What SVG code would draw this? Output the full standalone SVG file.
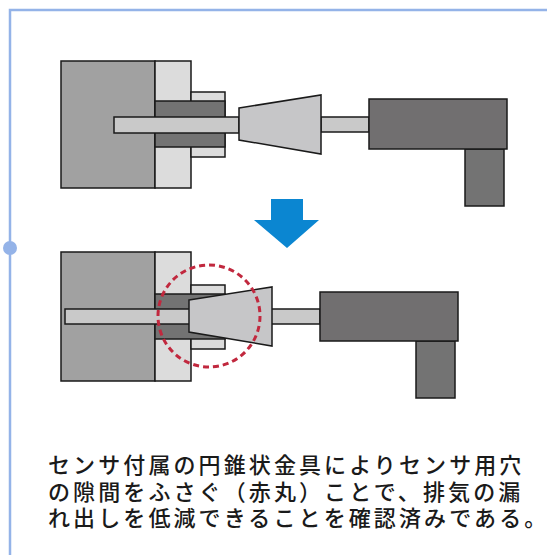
<svg xmlns="http://www.w3.org/2000/svg" width="547" height="555" viewBox="0 0 547 555">
  <style>
    .edge { stroke: #1a1a1a; stroke-width: 1.5; stroke-linejoin: miter; }
    .body { fill: #a1a1a1; }
    .plate { fill: #dcdcdc; }
    .sleeve { fill: #737373; }
    .rod { fill: #c9c9c9; }
    .cone { fill: #c6c6c8; }
    .gun { fill: #716f70; }
    .frame { stroke: #94b3e8; stroke-width: 2.5; fill: none; }
    .caption { font-family: "Noto Sans CJK JP", "Noto Sans CJK SC", sans-serif; font-size: 22px; font-weight: 500; letter-spacing: 3.1px; fill: #1a1a1a; }
  </style>

  <rect width="547" height="555" fill="#ffffff"/>

  <!-- frame -->
  <g id="frame">
    <path class="frame" d="M10 555 V10 H547"/>
    <circle cx="10" cy="248" r="7" fill="#94b3e8"/>
  </g>

  <!-- before: sensor loosely inserted -->
  <g id="before">
    <rect class="body edge" x="61" y="61" width="94" height="127"/>
    <rect class="plate edge" x="155" y="61" width="36" height="127"/>
    <rect class="plate edge" x="191" y="92" width="34" height="65"/>
    <rect class="sleeve edge" x="155" y="101" width="70" height="46"/>
    <rect class="rod edge" x="114" y="117" width="125" height="16"/>
    <rect class="rod edge" x="321" y="117" width="48" height="15"/>
    <polygon class="cone edge" points="239,108 321,95 321,154 239,140"/>
    <rect class="sleeve edge" x="465" y="149" width="39" height="57"/>
    <rect class="gun edge" x="369" y="99" width="138" height="50"/>
  </g>

  <!-- connector -->
  <g id="connectors">
    <polygon points="271,199 303,199 303,220 319,220 287,248 254,220 271,220" fill="#0b86d1"/>
  </g>

  <!-- after: cone fitting seated in the hole -->
  <g id="after">
    <rect class="body edge" x="61" y="252" width="94" height="129"/>
    <rect class="plate edge" x="155" y="252" width="36" height="129"/>
    <rect class="plate edge" x="191" y="285" width="34" height="64"/>
    <rect class="sleeve edge" x="155" y="294" width="70" height="45"/>
    <rect class="rod edge" x="65" y="309" width="255" height="15"/>
    <polygon class="cone edge" points="189,300 272,287 272,346 189,332"/>
    <rect class="sleeve edge" x="416" y="341" width="39" height="57"/>
    <rect class="gun edge" x="320" y="292" width="138" height="49"/>
    <circle cx="209" cy="316" r="51" fill="none" stroke="#c1283e" stroke-width="3" stroke-dasharray="6 4"/>
  </g>

  <!-- caption -->
  <g id="caption">
    <text class="caption" x="48" y="473">センサ付属の円錐状金具によりセンサ用穴</text>
    <text class="caption" x="48" y="499.5">の隙間をふさぐ（赤丸）ことで、排気の漏</text>
    <text class="caption" x="48" y="526">れ出しを低減できることを確認済みである。</text>
  </g>
</svg>
